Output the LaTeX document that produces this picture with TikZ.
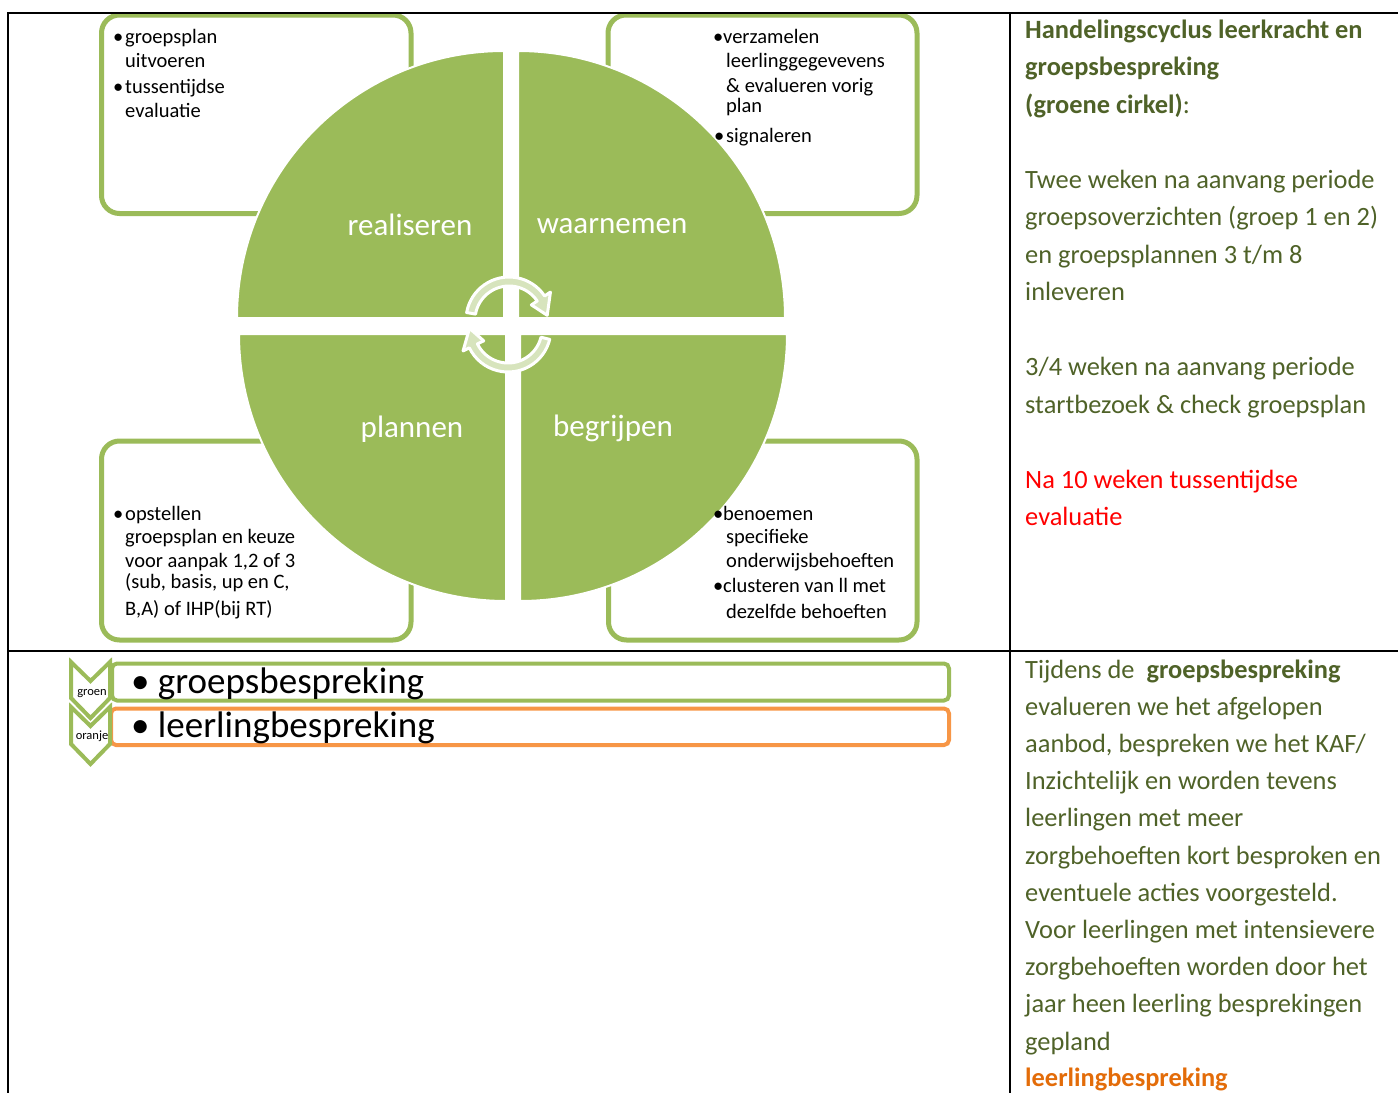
\documentclass[tikz,border=0pt]{standalone}
\usepackage{fontspec}
\setmainfont{Carlito}
\definecolor{cgreen}{HTML}{9BBB59}
\definecolor{corange}{HTML}{F79646}
\definecolor{clight}{HTML}{D7E4BD}
\definecolor{colive}{HTML}{4F6228}
\definecolor{cdorange}{HTML}{E36C09}
\begin{document}
\begin{tikzpicture}[x=1pt,y=-1pt,
  infobox/.style={draw=cgreen, line width=5pt, rounded corners=18pt, fill=white},
  quad/.style={fill=cgreen, draw=white, line width=2pt},
  boxtxt/.style={anchor=base west, inner sep=0pt, font=\fontsize{20.5}{24}\selectfont},
  qlabel/.style={anchor=base, inner sep=0pt, text=white, font=\fontsize{31}{36}\selectfont},
  coltxt/.style={anchor=base west, inner sep=0pt, text=colive, font=\fontsize{26.4}{30}\selectfont},
  bartxt/.style={anchor=base west, inner sep=0pt, font=\fontsize{37}{42}\selectfont},
  chevtxt/.style={anchor=base, inner sep=0pt, font=\fontsize{12.5}{14}\selectfont},
  cyclearrow/.style={fill=clight, draw=white, line width=3pt, line join=round},
  chev/.style={draw=cgreen, fill=white, line width=4pt, line join=miter},
  tline/.style={draw=black, line width=2pt}
]
\useasboundingbox (0,0) rectangle (1398,1093);

% boxes behind the circle
\draw[infobox] (101.5,15) rectangle (411,213.5);
\draw[infobox] (608,15) rectangle (917,213.5);
\draw[infobox] (101.5,441) rectangle (411,640);
\draw[infobox] (608.5,441) rectangle (917,640);

% circle quadrants
\filldraw[quad] (504,318) -- ++(-267,0) arc[start angle=180, end angle=270, radius=267] -- cycle;
\filldraw[quad] (518,318) -- ++(0,-267) arc[start angle=270, end angle=360, radius=267] -- cycle;
\filldraw[quad] (520,334) -- ++(267,0) arc[start angle=0, end angle=90, radius=267] -- cycle;
\filldraw[quad] (506,334) -- ++(0,267) arc[start angle=90, end angle=180, radius=267] -- cycle;

% quadrant labels
\node[qlabel] (lreal) at (410,235) {realiseren};
\node[qlabel] (lwaar) at (612,233) {waarnemen};
\node[qlabel] (lplan) at (412,437) {plannen};
\node[qlabel] (lbegr) at (613,436) {begrijpen};

% cycle arrows
\begin{scope}[shift={(509,320)}, yscale=-1]
\filldraw[cyclearrow] (170:43) arc[start angle=170, end angle=34, radius=43] -- (34:50) -- (7:38.5) -- (34:27) -- (34:34) arc[start angle=34, end angle=170, radius=34] -- cycle;
\end{scope}
\begin{scope}[shift={(508,329)}, yscale=-1]
\filldraw[cyclearrow] (-14:43) arc[start angle=-14, end angle=-154, radius=43] -- (-154:50) -- (-181:38.5) -- (-154:27) -- (-154:34) arc[start angle=-154, end angle=-14, radius=34] -- cycle;
\end{scope}

% box texts: top left
\node[boxtxt] (tlb1) at (113,43) {•};
\node[boxtxt] (tl1) at (125,43) {groepsplan};
\node[boxtxt] (tl2) at (125,67) {uitvoeren};
\node[boxtxt] (tlb2) at (113,93) {•};
\node[boxtxt] (tl3) at (125,93) {tussentijdse};
\node[boxtxt] (tl4) at (125,117) {evaluatie};

% top right
\node[boxtxt] (trb1) at (713,43) {•};
\node[boxtxt] (tr1) at (723,43) {verzamelen};
\node[boxtxt] (tr2) at (726,67) {leerlinggegevevens};
\node[boxtxt] (tr3) at (726,92) {\& evalueren vorig};
\node[boxtxt] (tr4) at (726,112) {plan};
\node[boxtxt] (trb2) at (714,142) {•};
\node[boxtxt] (tr5) at (726,142) {signaleren};

% bottom left
\node[boxtxt] (blb1) at (113,520) {•};
\node[boxtxt] (bl1) at (125,520) {opstellen};
\node[boxtxt] (bl2) at (125,543) {groepsplan en keuze};
\node[boxtxt] (bl3) at (125,567) {voor aanpak 1,2 of 3};
\node[boxtxt] (bl4) at (125,588) {(sub, basis, up en C,};
\node[boxtxt] (bl5) at (125,615) {B,A) of IHP(bij RT)};

% bottom right
\node[boxtxt] (brb1) at (713,520) {•};
\node[boxtxt] (br1) at (723,520) {benoemen};
\node[boxtxt] (br2) at (726,543) {specifieke};
\node[boxtxt] (br3) at (726,567) {onderwijsbehoeften};
\node[boxtxt] (brb2) at (713,592) {•};
\node[boxtxt] (br4) at (723,592) {clusteren van ll met};
\node[boxtxt] (br5) at (726,618) {dezelfde behoeften};

% bars and chevrons
\draw[draw=cgreen, line width=4pt, rounded corners=5pt] (112,663.5) rectangle (949,700.5);
\draw[draw=corange, line width=4pt, rounded corners=5pt] (111,708.5) rectangle (949,745);
\draw[chev] (71,662) -- (90.5,681) -- (110,662) -- (110,698) -- (90.5,718) -- (71,698) -- cycle;
\draw[chev] (71,707) -- (90.5,726) -- (110,707) -- (110,744) -- (90.5,764) -- (71,744) -- cycle;
\node[chevtxt] (cg) at (92,695) {groen};
\node[chevtxt] (co) at (92,739) {oranje};
\node[bartxt] (gb) at (131,693) {• groepsbespreking};
\node[bartxt] (lb) at (131,737) {• leerlingbespreking};

% right column, top
\node[coltxt] (h1) at (1025,38) {\textbf{Handelingscyclus leerkracht en}};
\node[coltxt] (h2) at (1025,75.5) {\textbf{groepsbespreking}};
\node[coltxt] (h3) at (1025,113) {\textbf{(groene cirkel)}:};
\node[coltxt] (t1) at (1025,188) {Twee weken na aanvang periode};
\node[coltxt] (t2) at (1025,225.5) {groepsoverzichten (groep 1 en 2)};
\node[coltxt] (t3) at (1025,263) {en groepsplannen 3 t/m 8};
\node[coltxt] (t4) at (1025,300.5) {inleveren};
\node[coltxt] (t5) at (1025,375.5) {3/4 weken na aanvang periode};
\node[coltxt] (t6) at (1025,413) {startbezoek \& check groepsplan};
\node[coltxt, text=red] (t7) at (1025,488) {Na 10 weken tussentijdse};
\node[coltxt, text=red] (t8) at (1025,525.5) {evaluatie};

% right column, bottom
\node[coltxt] (b1) at (1025,678) {Tijdens de\ \ \textbf{groepsbespreking}};
\node[coltxt] (b2) at (1025,715.2) {evalueren we het afgelopen};
\node[coltxt] (b3) at (1025,752.4) {aanbod, bespreken we het KAF/};
\node[coltxt] (b4) at (1025,789.6) {Inzichtelijk en worden tevens};
\node[coltxt] (b5) at (1025,826.8) {leerlingen met meer};
\node[coltxt] (b6) at (1025,864) {zorgbehoeften kort besproken en};
\node[coltxt] (b7) at (1025,901.2) {eventuele acties voorgesteld.};
\node[coltxt] (b8) at (1025,938.4) {Voor leerlingen met intensievere};
\node[coltxt] (b9) at (1025,975.6) {zorgbehoeften worden door het};
\node[coltxt] (b10) at (1025,1012.8) {jaar heen leerling besprekingen};
\node[coltxt] (b11) at (1025,1050) {gepland};
\node[coltxt, text=cdorange] (b12) at (1025,1086) {\textbf{leerlingbespreking}};

% table lines
\draw[tline] (7,13) -- (1398,13);
\draw[tline] (8,13) -- (8,1093);
\draw[tline] (1010,13) -- (1010,1093);
\draw[tline] (8,651) -- (1398,651);
\end{tikzpicture}
\end{document}
